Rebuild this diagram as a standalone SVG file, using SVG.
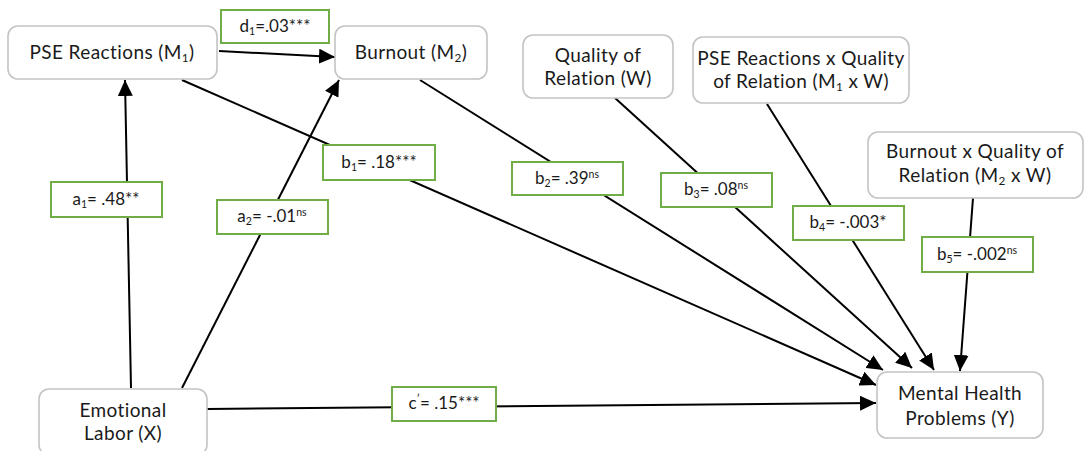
<svg xmlns="http://www.w3.org/2000/svg" width="1086" height="451" viewBox="0 0 1086 451">
  <defs>
    <marker id="arrow" markerUnits="userSpaceOnUse" markerWidth="17" markerHeight="15" refX="16" refY="7.5" orient="auto">
      <path d="M0,0 L16,7.5 L0,15 z" fill="#000"/>
    </marker>
    <style>
      .node rect { fill: #fff; stroke: #c4c4c4; stroke-width: 1.6; }
      .node text { font-family: Lato, "Liberation Sans", sans-serif; font-size: 19px; letter-spacing: 0.4px; fill: #1a1a1a; text-anchor: middle; }
      .conn line { stroke: #000; stroke-width: 2; marker-end: url(#arrow); }
      .lbl rect { fill: #fff; stroke: #70ad47; stroke-width: 2; }
      .lbl text { font-family: Lato, "Liberation Sans", sans-serif; font-size: 17px; fill: #1a1a1a; text-anchor: middle; }
      .sub { font-size: 0.62em; }
      .sup { font-size: 0.62em; }
    </style>
  </defs>

  <rect width="1086" height="451" fill="#fff"/>

  <!-- paths between the variables -->
  <g id="connectors" class="conn">
    <line x1="219" y1="51" x2="335" y2="57"/>
    <line x1="131" y1="388" x2="125" y2="80"/>
    <line x1="182" y1="388" x2="339" y2="80"/>
    <line x1="182" y1="80" x2="876" y2="385"/>
    <line x1="420" y1="80" x2="883" y2="370"/>
    <line x1="615" y1="98" x2="912" y2="368"/>
    <line x1="767" y1="104" x2="934" y2="370"/>
    <line x1="973" y1="198" x2="960" y2="371"/>
    <line x1="207" y1="409" x2="876" y2="403"/>
  </g>

  <!-- coefficient labels -->
  <g id="labels" class="lbl">
    <g id="lbl-d1"><rect x="221" y="10" width="108" height="33"/><text x="275" y="32">d<tspan class="sub" dy="3">1</tspan><tspan dy="-3">=.03***</tspan></text></g>
    <g id="lbl-a1"><rect x="51" y="182" width="111" height="35"/><text x="106" y="205">a<tspan class="sub" dy="3">1</tspan><tspan dy="-3">= .48**</tspan></text></g>
    <g id="lbl-a2"><rect x="217" y="200" width="111" height="34"/><text x="272" y="222">a<tspan class="sub" dy="3">2</tspan><tspan dy="-3">= -.01</tspan><tspan class="sup" dy="-6">ns</tspan></text></g>
    <g id="lbl-b1"><rect x="323" y="145" width="112" height="35"/><text x="379" y="168">b<tspan class="sub" dy="3">1</tspan><tspan dy="-3">= .18***</tspan></text></g>
    <g id="lbl-b2"><rect x="512" y="162" width="111" height="33"/><text x="567" y="184">b<tspan class="sub" dy="3">2</tspan><tspan dy="-3">= .39</tspan><tspan class="sup" dy="-6">ns</tspan></text></g>
    <g id="lbl-b3"><rect x="661" y="173" width="111" height="34"/><text x="716" y="195">b<tspan class="sub" dy="3">3</tspan><tspan dy="-3">= .08</tspan><tspan class="sup" dy="-6">ns</tspan></text></g>
    <g id="lbl-b4"><rect x="793" y="206" width="111" height="34"/><text x="848" y="228">b<tspan class="sub" dy="3">4</tspan><tspan dy="-3">= -.003*</tspan></text></g>
    <g id="lbl-b5"><rect x="922" y="237" width="111" height="35"/><text x="977" y="260">b<tspan class="sub" dy="3">5</tspan><tspan dy="-3">= -.002</tspan><tspan class="sup" dy="-6">ns</tspan></text></g>
    <g id="lbl-c"><rect x="392" y="387" width="104" height="34"/><text x="444" y="409">c<tspan class="sup" dy="-6">′</tspan><tspan dy="6">= .15***</tspan></text></g>
  </g>

  <!-- variables -->
  <g id="node-m1" class="node">
    <rect x="8" y="26" width="209" height="53" rx="10"/>
    <text x="112" y="59">PSE Reactions (M<tspan class="sub" dy="3">1</tspan><tspan dy="-3">)</tspan></text>
  </g>
  <g id="node-m2" class="node">
    <rect x="335" y="26" width="152" height="53" rx="10"/>
    <text x="411" y="59">Burnout (M<tspan class="sub" dy="3">2</tspan><tspan dy="-3">)</tspan></text>
  </g>
  <g id="node-w" class="node">
    <rect x="523" y="35" width="150" height="63" rx="10"/>
    <text x="598" y="62">Quality of</text>
    <text x="598" y="85">Relation (W)</text>
  </g>
  <g id="node-m1w" class="node">
    <rect x="693" y="37" width="216" height="66" rx="10"/>
    <text x="801" y="65">PSE Reactions x Quality</text>
    <text x="801" y="88">of Relation (M<tspan class="sub" dy="3">1</tspan><tspan dy="-3"> x W)</tspan></text>
  </g>
  <g id="node-m2w" class="node">
    <rect x="868" y="132" width="215" height="66" rx="10"/>
    <text x="975" y="158">Burnout x Quality of</text>
    <text x="975" y="182">Relation (M<tspan class="sub" dy="3">2</tspan><tspan dy="-3"> x W)</tspan></text>
  </g>
  <g id="node-x" class="node">
    <rect x="39" y="389" width="168" height="66" rx="10"/>
    <text x="123" y="417">Emotional</text>
    <text x="123" y="440">Labor (X)</text>
  </g>
  <g id="node-y" class="node">
    <rect x="877" y="372" width="166" height="66" rx="10"/>
    <text x="960" y="400">Mental Health</text>
    <text x="960" y="425">Problems (Y)</text>
  </g>
</svg>
